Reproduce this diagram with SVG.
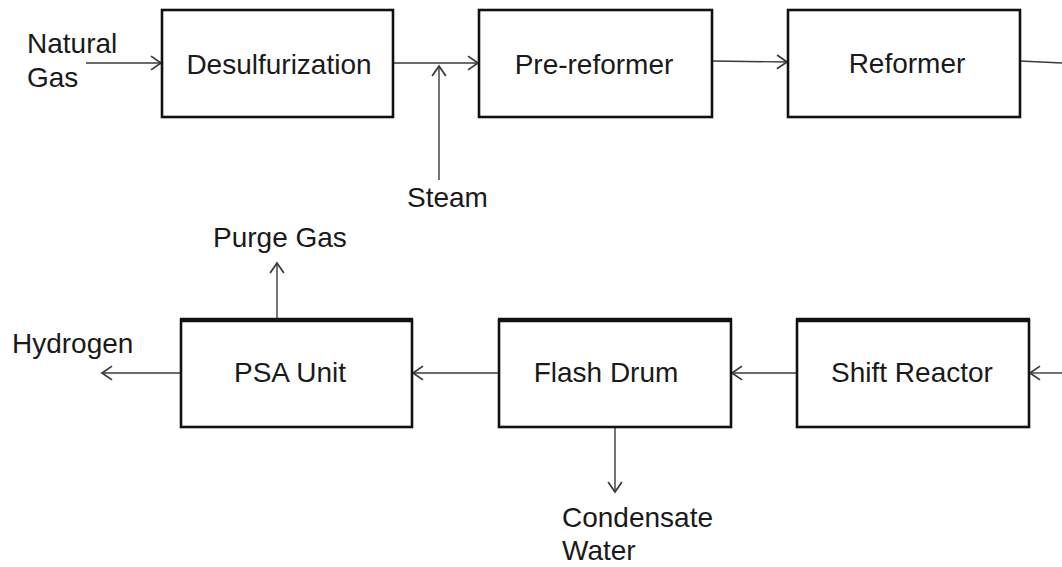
<svg xmlns="http://www.w3.org/2000/svg" width="1062" height="567" viewBox="0 0 1062 567">
<style>
  .box{fill:#fff;stroke:#111;stroke-width:2.6}
  .top{stroke:#111;stroke-width:4.5}
  .lbl{font-family:"Liberation Sans",Arial,sans-serif;font-size:28px;fill:#1a1a1a}
  .c{fill:none;stroke:#3a3a3a;stroke-width:1.4}
</style>
<defs>
  <marker id="ah" markerUnits="userSpaceOnUse" markerWidth="20" markerHeight="20" viewBox="-12 -8 14 16" refX="0" refY="0" orient="auto">
    <path d="M -8 -5.5 L 0 0 L -8 5.5" fill="none" stroke="#3a3a3a" stroke-width="1.4"/>
  </marker>
</defs>
<rect width="1062" height="567" fill="#fff"/>
<g id="connectors">
  <line class="c" x1="86" y1="63" x2="161" y2="63" marker-end="url(#ah)"/>
  <line class="c" x1="393" y1="63" x2="478" y2="63" marker-end="url(#ah)"/>
  <line class="c" x1="439" y1="180" x2="439" y2="66" marker-end="url(#ah)"/>
  <line class="c" x1="712" y1="61" x2="787" y2="62" marker-end="url(#ah)"/>
  <line class="c" x1="1020" y1="61" x2="1062" y2="63"/>
  <line class="c" x1="1062" y1="373" x2="1030" y2="373" marker-end="url(#ah)"/>
  <line class="c" x1="797" y1="373" x2="732" y2="373" marker-end="url(#ah)"/>
  <line class="c" x1="499" y1="373" x2="413" y2="373" marker-end="url(#ah)"/>
  <line class="c" x1="181" y1="373" x2="102" y2="373" marker-end="url(#ah)"/>
  <line class="c" x1="277" y1="319" x2="277" y2="263" marker-end="url(#ah)"/>
  <line class="c" x1="615" y1="427" x2="615" y2="492" marker-end="url(#ah)"/>
</g>
<g id="desulfurization">
  <rect class="box" x="162" y="10" width="231" height="107"/>
  <text class="lbl" x="279" y="74" text-anchor="middle">Desulfurization</text>
</g>
<g id="pre-reformer">
  <rect class="box" x="479" y="10" width="233" height="107"/>
  <text class="lbl" x="594" y="74" text-anchor="middle">Pre-reformer</text>
</g>
<g id="reformer">
  <rect class="box" x="788" y="10" width="232" height="107"/>
  <text class="lbl" x="907" y="73" text-anchor="middle">Reformer</text>
</g>
<g id="psa-unit">
  <rect class="box" x="181" y="320" width="231" height="107"/>
  <line class="top" x1="180" y1="320" x2="413" y2="320"/>
  <text class="lbl" x="290" y="382" text-anchor="middle">PSA Unit</text>
</g>
<g id="flash-drum">
  <rect class="box" x="499" y="320" width="232" height="107"/>
  <line class="top" x1="498" y1="320" x2="732" y2="320"/>
  <text class="lbl" x="606" y="382" text-anchor="middle">Flash Drum</text>
</g>
<g id="shift-reactor">
  <rect class="box" x="797" y="320" width="232" height="107"/>
  <line class="top" x1="796" y1="320" x2="1030" y2="320"/>
  <text class="lbl" x="912" y="382" text-anchor="middle">Shift Reactor</text>
</g>
<g id="labels">
  <text class="lbl" x="27" y="53">Natural</text>
  <text class="lbl" x="27" y="87">Gas</text>
  <text class="lbl" x="407" y="207">Steam</text>
  <text class="lbl" x="213" y="247">Purge Gas</text>
  <text class="lbl" x="12" y="353">Hydrogen</text>
  <text class="lbl" x="562" y="527">Condensate</text>
  <text class="lbl" x="562" y="560">Water</text>
</g>
</svg>
